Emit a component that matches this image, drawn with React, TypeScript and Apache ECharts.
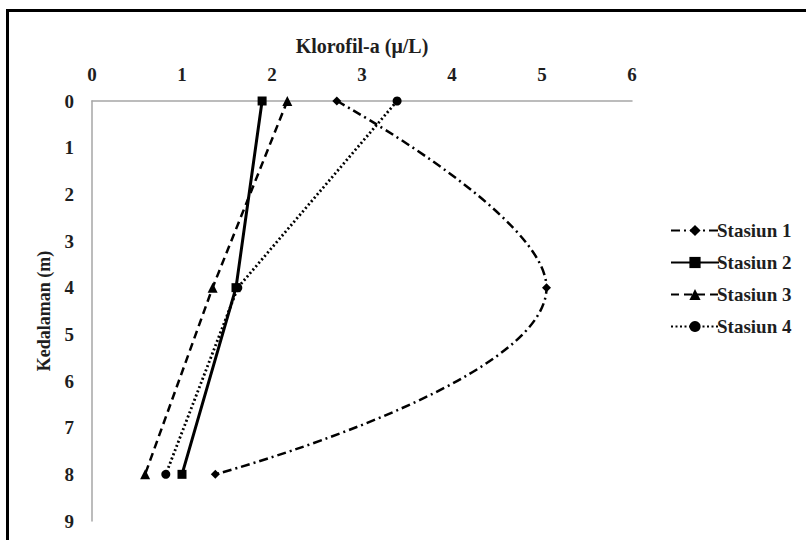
import React, { useEffect, useRef } from "react";
import * as echarts from "echarts";

const seriesNames = ["Stasiun 1", "Stasiun 2", "Stasiun 3", "Stasiun 4"];
const depths = [0, 4, 8];
const stasiun1 = [2.72, 5.05, 1.37];
const stasiun2 = [1.89, 1.6, 1.0];
const stasiun3 = [2.17, 1.34, 0.59];
const stasiun4 = [3.39, 1.62, 0.82];
const xTicks = [0, 1, 2, 3, 4, 5, 6];
const yTicks = [0, 1, 2, 3, 4, 5, 6, 7, 8, 9];

const FONT = "'Liberation Serif', 'Times New Roman', serif";

export default function App() {
  const ref = useRef<HTMLDivElement>(null);
  useEffect(() => {
    if (!ref.current) return;
    const chart = echarts.init(ref.current, null, { renderer: "svg" });
    const pairs = (vals: number[]) => vals.map((v, i) => [v, depths[i]]);
    const styles = [
      { data: stasiun1, symbol: "diamond", size: 9, type: [9, 4, 2, 4], width: 2.5, smooth: 0.45 },
      { data: stasiun2, symbol: "rect", size: 9, type: "solid", width: 3, smooth: false },
      { data: stasiun3, symbol: "triangle", size: 10, type: [8, 5], width: 2.5, smooth: false },
      { data: stasiun4, symbol: "circle", size: 9, type: [2, 2.5], width: 2.8, smooth: false },
    ];
    chart.setOption({
      animation: false,
      backgroundColor: "#fff",
      graphic: [
        { type: "rect", shape: { x: 6, y: 9, width: 800, height: 3 }, style: { fill: "#000" } },
        { type: "rect", shape: { x: 6, y: 9, width: 3, height: 531 }, style: { fill: "#000" } },
      ],
      grid: { left: 92, top: 101, width: 540, height: 420, containLabel: false },
      legend: {
        orient: "vertical",
        left: 665,
        top: 216,
        itemWidth: 48,
        itemHeight: 14,
        itemGap: 13,
        data: seriesNames,
        textStyle: { fontFamily: FONT, fontSize: 19, fontWeight: "bold", color: "#1e1e1e", padding: [0, 0, 0, -7] },
      },
      xAxis: {
        type: "value",
        position: "top",
        min: 0,
        max: 6,
        interval: 1,
        name: "Klorofil-a (μ/L)",
        nameLocation: "middle",
        nameGap: 45,
        nameTextStyle: { fontFamily: FONT, fontSize: 20, fontWeight: "bold", color: "#1e1e1e" },
        axisLine: { show: true, lineStyle: { color: "#a6a6a6", width: 1.5 } },
        axisTick: { show: false },
        splitLine: { show: false },
        axisLabel: {
          margin: 17,
          fontFamily: FONT,
          fontSize: 19,
          fontWeight: "bold",
          color: "#1e1e1e",
          formatter: (v: number) => (xTicks.includes(v) ? String(v) : ""),
        },
      },
      yAxis: {
        type: "value",
        inverse: true,
        min: 0,
        max: 9,
        interval: 1,
        name: "Kedalaman (m)",
        nameLocation: "middle",
        nameGap: 39,
        nameRotate: 90,
        nameTextStyle: { fontFamily: FONT, fontSize: 18, fontWeight: "bold", color: "#1e1e1e" },
        axisLine: { show: true, lineStyle: { color: "#a6a6a6", width: 1.5 } },
        axisTick: { show: false },
        splitLine: { show: false },
        axisLabel: {
          margin: 18,
          fontFamily: FONT,
          fontSize: 19,
          fontWeight: "bold",
          color: "#1e1e1e",
          formatter: (v: number) => (yTicks.includes(v) ? String(v) : ""),
        },
      },
      series: styles.map((s, i) => ({
        name: seriesNames[i],
        type: "line",
        data: pairs(s.data),
        smooth: s.smooth,
        symbol: s.symbol,
        symbolSize: s.size,
        showSymbol: true,
        color: "#000",
        itemStyle: { color: "#000" },
        lineStyle: { color: "#000", width: s.width, type: s.type },
        z: 2 + i,
      })),
    });
    return () => chart.dispose();
  }, []);
  return (
    <div
      ref={ref}
      style={{ position: "fixed", left: 0, top: 0, width: 806, height: 540 }}
    />
  );
}
